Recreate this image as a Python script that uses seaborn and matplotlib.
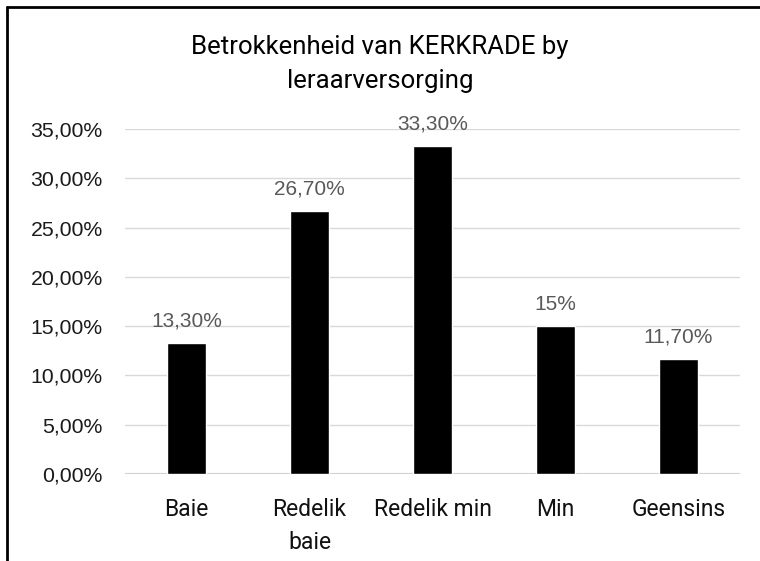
import matplotlib
matplotlib.use("Agg")
import matplotlib.pyplot as plt
from matplotlib.lines import Line2D
import seaborn as sns
import pandas as pd

categories = ["Baie", "Redelik\nbaie", "Redelik min", "Min", "Geensins"]
values = [13.3, 26.7, 33.3, 15.0, 11.7]
value_labels = ["13,30%", "26,70%", "33,30%", "15%", "11,70%"]
yticks = [0, 5, 10, 15, 20, 25, 30, 35]
ytick_labels = ["0,00%", "5,00%", "10,00%", "15,00%", "20,00%", "25,00%", "30,00%", "35,00%"]
title = "Betrokkenheid van KERKRADE by\nleraarversorging"

sns.set_theme(style="white")
narrow = "Roboto"
plt.rcParams['font.family'] = ['Liberation Sans', 'DejaVu Sans']

df = pd.DataFrame({"cat": categories, "val": values})

fig = plt.figure(figsize=(7.6, 5.61), dpi=100)
ax = fig.add_axes([125/760, 1-474/561, 615/760, 345/561])
sns.barplot(data=df, x="cat", y="val", color="black", width=0.31, ax=ax, saturation=1)
ax.set_ylim(0, 35)
ax.set_xlim(-0.5, 4.5)
ax.set_yticks(yticks)
ax.set_yticklabels(ytick_labels, fontsize=15.3, color="#1a1a1a")
ax.set_xticklabels(categories, fontsize=16.5, family=[narrow, 'DejaVu Sans'], color="#111111",
                   linespacing=1.6)
ax.set_xlabel("")
ax.set_ylabel("")
ax.tick_params(axis='both', length=0)
ax.tick_params(axis='y', pad=16)
ax.tick_params(axis='x', pad=17)
ax.grid(axis='y', color="#d9d9d9", linewidth=1)
ax.set_axisbelow(True)
for s in ax.spines.values():
    s.set_visible(False)
ax.axhline(0, color="#d0d0d0", linewidth=1.5, zorder=0.5)

for i, (v, lab) in enumerate(zip(values, value_labels)):
    ax.annotate(lab, (i, v), xytext=(0, 9), textcoords="offset points",
                ha="center", va="bottom", fontsize=15, color="#595959")

fig.text(380/760, 1-64/561, title, ha="center", va="center", fontsize=18.5,
         family=[narrow, 'DejaVu Sans'], color="black", linespacing=1.55)

fig.add_artist(Line2D([6.5/760, 6.5/760], [0, 1-7/561], transform=fig.transFigure, color="black", linewidth=2))
fig.add_artist(Line2D([6.5/760, 1], [1-7/561, 1-7/561], transform=fig.transFigure, color="black", linewidth=2))

fig.savefig("out.png", dpi=100)
